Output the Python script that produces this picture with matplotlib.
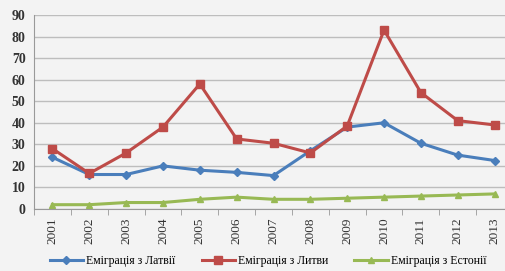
# emigration from the Baltic states, 2001-2013
import matplotlib.pyplot as plt
import numpy as np

years = ['2001', '2002', '2003', '2004', '2005', '2006', '2007',
         '2008', '2009', '2010', '2011', '2012', '2013']
latvia = [24, 16, 16, 20, 18, 17, 15.5, 27, 38, 40, 30.5, 25, 22.5]
lithuania = [28, 16.5, 26, 38, 58, 32.5, 30.5, 26, 38.5, 83, 54, 41, 39]
estonia = [2, 2, 3, 3, 4.5, 5.5, 4.5, 4.5, 5, 5.5, 6, 6.5, 7]
labels = ['Еміграція з Латвії', 'Еміграція з Литви', 'Еміграція з Естонії']

plt.rcParams['font.family'] = ['Liberation Serif', 'DejaVu Serif']

fig = plt.figure(figsize=(5.06, 2.71), dpi=100, facecolor='#f3f3f3')
ax = fig.add_axes([34/506, 62/271, 1 - 34/506, 194/271])
ax.set_facecolor('#f3f3f3')

x = np.arange(len(years))
ax.plot(x, latvia, '-D', color='#4a7ebb', lw=2.2, ms=4, label=labels[0])
ax.plot(x, lithuania, '-s', color='#be4b48', lw=2.2, ms=6, label=labels[1])
ax.plot(x, estonia, '-^', color='#98b954', lw=2.2, ms=5, label=labels[2])

ax.set_ylim(0, 90)
ax.set_yticks(range(0, 91, 10))
ax.set_xlim(-0.5, 12.31)
ax.set_xticks(x)
ax.set_xticklabels(years, rotation=90, fontsize=9.5)
ax.set_xticks(np.arange(-0.5, 12.5, 1), minor=True)
ax.tick_params(axis='y', labelsize=10, length=0, pad=6)
ax.tick_params(axis='x', which='major', length=0, pad=6)
ax.tick_params(axis='x', which='minor', length=4, color='#999999')
for lbl in ax.get_yticklabels():
    lbl.set_fontweight('bold')
    lbl.set_color('#333333')
for lbl in ax.get_xticklabels():
    lbl.set_color('#333333')

ax.grid(axis='y', color='#bdbdbd', lw=1)
ax.set_axisbelow(True)
for s in ['top', 'right']:
    ax.spines[s].set_visible(False)
ax.spines['left'].set_color('#999999')
ax.spines['bottom'].set_color('#999999')

fig.legend(loc='lower center', bbox_to_anchor=(0.53, -0.025), ncol=3,
           frameon=False, fontsize=8.5, handlelength=2.8, handletextpad=0.3,
           columnspacing=2.2)

plt.savefig('out.png', dpi=100, facecolor=fig.get_facecolor())
